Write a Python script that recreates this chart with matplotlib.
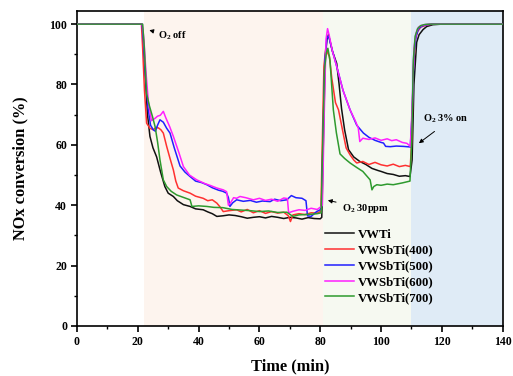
import matplotlib
matplotlib.use("Agg")
import matplotlib.pyplot as plt

plt.rcParams['font.family'] = ['Liberation Serif', 'DejaVu Serif']
plt.rcParams['font.weight'] = 'bold'
plt.rcParams['mathtext.default'] = 'regular'

# ---- data ----
t_vwti = [0, 21.3, 21.8, 22.5, 23.2, 24, 25, 26.2, 27.5, 28.9, 30, 31.7, 33, 35, 37.2, 39, 41.5, 43, 44.5, 46,
          48, 50, 52, 54, 56, 58, 60, 62, 64, 66, 68, 70, 72, 74, 76, 78, 80, 80.5, 81, 81.6, 82.2, 82.7, 83.3,
          84, 85.4, 86.2, 87, 88, 89.3, 91, 93, 95, 97, 99, 100, 102, 104, 106, 108, 109.5, 110.2, 110.8, 111.7,
          112.5, 113.8, 115, 117, 120, 140]
v_vwti = [100, 100, 95, 82, 70, 62.8, 59, 56, 51, 46.2, 44, 42.9, 41.5, 40.2, 39.6, 38.8, 38.5, 37.8, 37.2, 36.3,
          36.5, 36.8, 36.6, 36.2, 35.7, 36, 36.2, 35.8, 36.3, 36, 35.6, 36, 35.8, 35.4, 35.9, 35.6, 35.5, 36, 60,
          88, 95, 96.5, 94, 91, 87, 80, 72, 65, 58.4, 56, 54.5, 53.5, 52.2, 51.5, 51.2, 50.5, 50.2, 49.6, 49.8,
          49.5, 55, 80, 94, 96.5, 98.2, 99.2, 99.8, 100, 100]

t_400 = [0, 21.2, 21.6, 22.2, 22.9, 24, 25.1, 26, 26.8, 27.6, 28.4, 29.5, 30.6, 31.7, 32.5, 33.3, 35, 37.2, 39,
         41.5, 43, 44.5, 46, 47, 48.1, 50, 52.5, 54, 56, 58, 60, 62, 64, 66, 68, 69.5, 70.2, 71, 73, 75, 77, 79,
         80.2, 80.7, 81.2, 81.8, 82.4, 83, 83.8, 85, 86, 87.5, 88.5, 89.8, 91, 92, 94, 96, 98, 100, 102, 104, 106,
         108, 109.6, 110.1, 110.6, 111.3, 112, 113, 115, 117, 140]
v_400 = [100, 100, 92, 78, 67.2, 65.5, 65, 65.8, 65.6, 65, 63.9, 59.5, 55.5, 51.7, 48, 45.7, 44.8, 44, 43, 42.3,
         41.5, 41.8, 40.7, 39.5, 37.9, 38.2, 38.5, 37.8, 38.6, 37.5, 38.2, 37.3, 37.9, 37.4, 37.7, 36.5, 34.6, 36.8,
         37.2, 36.9, 37.5, 37.4, 38, 62, 86, 92, 90.5, 89.3, 82, 74, 71.6, 64, 59, 56.7, 55, 54, 54.5, 53.5, 54.2,
         53.4, 53, 53.6, 52.8, 53.2, 52.8, 62, 85, 95, 97.5, 99, 99.7, 100, 100]

t_500 = [0, 21.4, 21.9, 22.6, 23.4, 24.2, 25.1, 25.8, 26.5, 27.3, 28.4, 29.5, 30.6, 32, 33.9, 35.5, 37.2, 39, 41,
         42.7, 44.5, 46.5, 48, 49.2, 49.8, 50.3, 51.2, 52.5, 54.7, 57, 59, 61, 63.5, 65, 67, 69, 70.5, 72, 74, 75.3,
         75.8, 77, 78.8, 80, 80.4, 80.9, 81.5, 82.2, 82.8, 83.5, 85.4, 87.5, 89.8, 92, 94.2, 96, 98, 100, 100.8,
         101.5, 103, 105, 107.3, 109.6, 110.2, 110.8, 111.5, 112.3, 113.5, 115, 117, 140]
v_500 = [100, 100, 94, 82, 72, 66.5, 65, 64.5, 66.5, 68.3, 67.5, 65.5, 63.9, 59, 53, 51, 49.5, 48, 47.5, 46.8,
         45.8, 45, 44.6, 44, 42.5, 39.6, 40.8, 41.8, 41.3, 41.6, 41, 41.4, 41.2, 42, 41.5, 41.8, 43.2, 42.5, 42.3,
         41.5, 36.5, 36.3, 37.9, 38.5, 39.5, 62, 88, 95.5, 96, 93, 86, 78, 71.6, 66.5, 63.9, 62.5, 61.5, 60.8, 60.6,
         59.5, 59.4, 59.6, 59.5, 59.3, 70, 90, 96, 98.5, 99.4, 99.8, 100, 100]

t_600 = [0, 21.5, 22, 22.7, 23.5, 24.5, 25.7, 26.5, 27.4, 28.4, 29.2, 30.5, 31.7, 33.5, 35, 37, 39.4, 42, 44, 46,
         48.1, 49.2, 49.8, 50.5, 51.5, 52.5, 53.6, 55.5, 58, 60, 62, 64, 66, 68, 69.2, 69.6, 71, 73, 75, 77, 79,
         80.2, 80.7, 81.3, 81.9, 82.4, 83, 84, 85.4, 87.5, 89.8, 91.5, 92.5, 93, 94, 96, 98, 100, 102, 103.5, 105,
         107, 108.5, 109.6, 110.2, 110.8, 111.5, 112.3, 113.5, 115, 117, 140]
v_600 = [100, 100, 95, 84, 74, 68, 68.8, 69.5, 69.8, 71.1, 69, 66, 62.8, 57.5, 52.8, 50, 48.4, 47.2, 46.5, 45.7,
         45.1, 44.5, 40, 40.8, 42.5, 42.3, 42.9, 42.5, 41.8, 42.3, 41.6, 42, 41.3, 42.4, 42.2, 37.5, 38, 38.5, 38.3,
         39, 38.6, 39.5, 40, 70, 95, 98.5, 96, 91, 86, 78, 71.6, 68, 65.6, 61.1, 62.2, 61.8, 62.3, 61.5, 62, 61.4,
         61.7, 60.8, 60.5, 59.5, 72, 92, 97, 99, 99.6, 99.9, 100, 100]

t_700 = [0, 21.6, 22.1, 22.9, 23.8, 24.8, 25.7, 26.5, 27.3, 28.4, 29.5, 31, 32.8, 35, 37.2, 37.8, 40, 42.7, 45,
         48, 51, 54, 57, 60, 63, 66, 69, 71, 73, 75, 77, 79, 80.3, 80.8, 81.4, 82, 82.5, 83.2, 84.3, 85.3, 86.5,
         88, 89.8, 92, 94, 96.4, 97, 97.6, 98.6, 100, 102, 104, 107, 109.5, 110.1, 110.6, 111.2, 112, 113, 114.5,
         116.5, 140]
v_700 = [100, 100, 93, 77, 73, 69.5, 66, 61, 55, 48.4, 46.2, 44.6, 43.4, 42.6, 41.8, 39.6, 39.8, 39.6, 39.3,
         39.2, 38.6, 38.4, 38.2, 37.9, 38.1, 37.6, 37.7, 36.3, 36.8, 36.9, 37, 37.2, 37.5, 60, 85, 90.5, 92, 88,
         71.6, 64, 57, 55.5, 54, 52.5, 51.2, 48.4, 45.1, 46.2, 46.8, 46.6, 47, 46.8, 47.4, 48, 62, 88, 96, 98.5,
         99.5, 99.9, 100, 100]

labels = ['VWTi', 'VWSbTi(400)', 'VWSbTi(500)', 'VWSbTi(600)', 'VWSbTi(700)']
colors = ['#111111', '#FF3030', '#2020FF', '#FF20FF', '#2E9A2E']
series = [(t_vwti, v_vwti), (t_400, v_400), (t_500, v_500), (t_600, v_600), (t_700, v_700)]

regions = [(22, 81, '#FDF4EE'), (81, 110, '#F6F9F1'), (110, 140, '#DFEBF6')]

# ---- plot ----
fig = plt.figure(figsize=(5.13, 3.76), dpi=100)
ax = fig.add_axes([0.150, 0.133, 0.830, 0.839])

for a, b, c in regions:
    ax.axvspan(a, b, color=c, zorder=0, lw=0)

for (t, v), lab, col in zip(series, labels, colors):
    ax.plot(t, v, color=col, lw=1.1, label=lab, zorder=3)

ax.set_xlim(0, 140)
ax.set_ylim(0, 104.5)
ax.set_xticks(range(0, 141, 20))
ax.set_xticks(range(0, 141, 10), minor=True)
ax.set_yticks(range(0, 101, 20))
ax.set_yticks(range(0, 101, 10), minor=True)
ax.tick_params(which='major', direction='out', length=4, width=1.2, labelsize=8.5, pad=3)
ax.tick_params(which='minor', direction='out', length=2.5, width=1.0)
for lab in ax.get_xticklabels() + ax.get_yticklabels():
    lab.set_fontweight('bold')
for s in ax.spines.values():
    s.set_linewidth(1.2)

ax.set_xlabel('Time (min)', fontsize=11.8, fontweight='bold', labelpad=8)
ax.set_ylabel('NOx conversion (%)', fontsize=11.8, fontweight='bold', labelpad=15)

akw = dict(fontsize=7.5, fontweight='bold', zorder=5)
arrow = dict(arrowstyle='-|>', color='black', lw=0.7, mutation_scale=6)
ax.annotate('O$_2$ off', xy=(22.9, 98.2), xytext=(26.6, 96), va='center', ha='left', arrowprops=arrow, **akw)
ax.annotate('O$_2$ 30ppm', xy=(81.6, 41.8), xytext=(87, 39), va='center', ha='left', arrowprops=arrow, **akw)
ax.annotate('O$_2$ 3% on', xy=(111.7, 60), xytext=(113.7, 68.5), va='center', ha='left', **akw)
ax.annotate('', xy=(111.7, 60), xytext=(118.3, 65), arrowprops=arrow)

leg = ax.legend(loc='upper left', bbox_to_anchor=(0.57, 0.325), frameon=False,
                prop={'weight': 'bold', 'size': 9.2}, handlelength=2.3, handletextpad=0.3,
                labelspacing=0.3, borderaxespad=0)

fig.savefig('out.png', dpi=100)
